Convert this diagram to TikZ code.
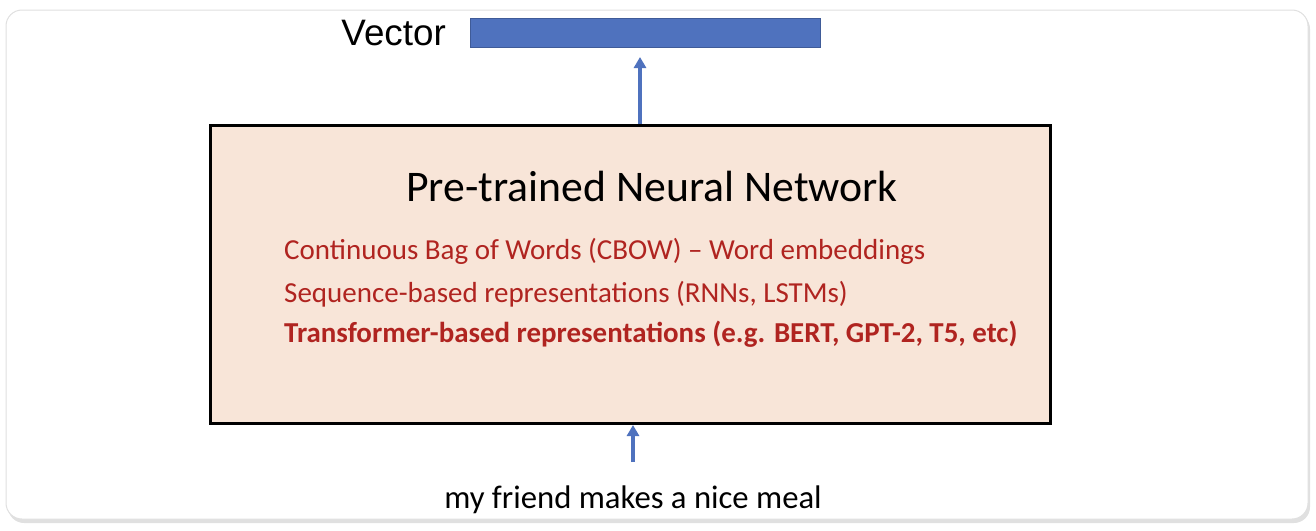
\documentclass[tikz,border=0pt]{standalone}
\usepackage{fontspec}
\setmainfont{Carlito}
\newfontfamily\helv{Liberation Sans}
\usepackage{xcolor}
\usetikzlibrary{arrows.meta, positioning}

\definecolor{azul}{RGB}{79,114,190}
\definecolor{rojo}{RGB}{176,36,32}
\definecolor{durazno}{RGB}{248,229,216}

\begin{document}
\begin{tikzpicture}[
  x=1pt, y=-1pt,
  marco/.style={draw=black!12, line width=1pt, rounded corners=16pt, fill=white},
  caja/.style={draw, line width=3pt, fill=durazno, minimum width=840pt,
               minimum height=298pt, inner sep=0pt},
  vector/.style={draw=azul!80!black, line width=0.6pt, fill=azul,
                 minimum width=350pt, minimum height=29pt, inner sep=0pt},
  lista/.style={text=rojo, font=\fontsize{29}{34}\selectfont, anchor=west, inner sep=0pt},
  flecha/.style={-{Triangle[length=11pt, width=12pt]}, azul, line width=3.5pt}
]
\useasboundingbox (0,0) rectangle (1316,530);
\fill[black!12, rounded corners=16pt] (8,13) rectangle (1310,523);
\draw[marco] (6,10) rectangle (1308,519);

\node[caja] (red) at (630,274) {};
\node[font=\fontsize{43.7}{50}\selectfont, inner sep=0pt] (titulo) at (652,186) {Pre-trained Neural Network};
\node[lista] (cbow) at (284,251) {Continuous Bag of Words (CBOW) -- Word embeddings};
\node[lista] (rnn) at (284,294) {Sequence-based representations (RNNs, LSTMs)};
\node[lista, font=\fontsize{28.9}{34}\selectfont\bfseries] (trans) at (284,334)
  {Transformer-based representations (e.g. BERT, GPT-2, T5, etc)};

\node[vector] (vec) at (645,32.5) {};
\node[font=\helv\fontsize{36.8}{42}\selectfont, inner sep=0pt, anchor=east] (veclab) at (446,33) {Vector};

\node[font=\fontsize{32.7}{38}\selectfont, inner sep=0pt] (frase) at (633,500) {my friend makes a nice meal};

\coordinate (arr1) at (640,124);
\coordinate (arr1b) at (640,57);
\coordinate (arr2) at (633,462);
\coordinate (arr2b) at (633,425);
\draw[flecha] (arr1) -- (arr1b);
\draw[flecha] (arr2) -- (arr2b);
\end{tikzpicture}
\end{document}
